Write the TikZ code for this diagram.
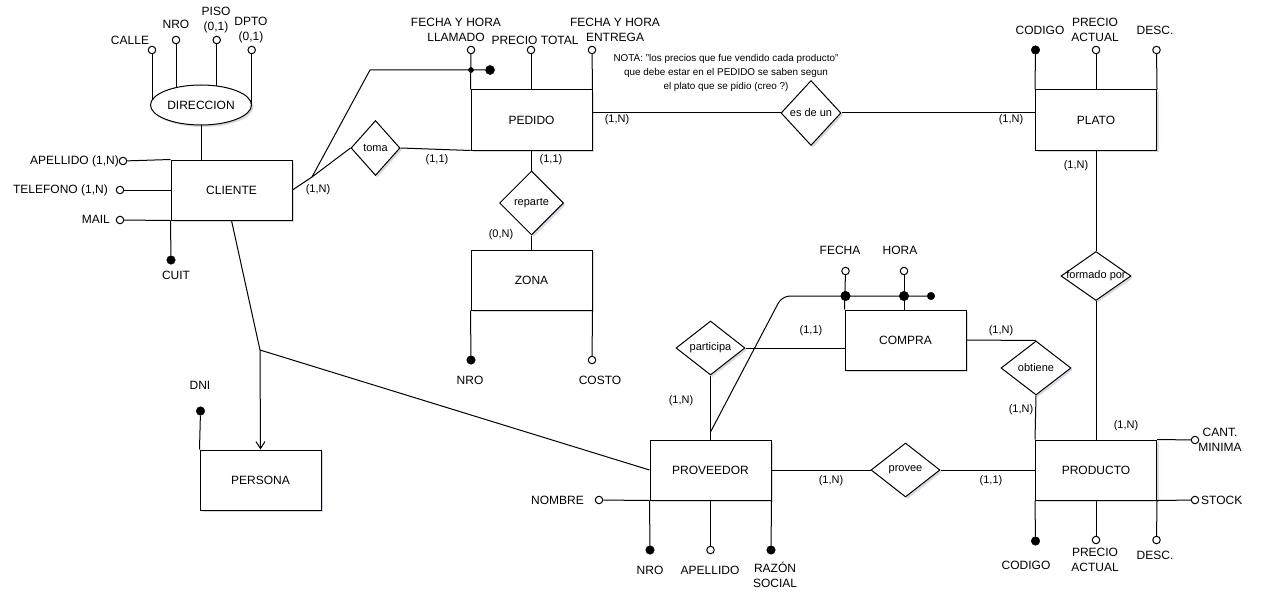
\documentclass[tikz,border=0pt]{standalone}
\usepackage{fontspec}
\setmainfont{Liberation Sans}
\usetikzlibrary{shapes.geometric,arrows.meta,shadows}
\pgfdeclarelayer{bg}
\pgfsetlayers{bg,main}

\newcommand\fA{\fontsize{12}{15}\selectfont}
\newcommand\fB{\fontsize{11}{13}\selectfont}
\newcommand\fN{\fontsize{9.9}{14.4}\selectfont}

\tikzset{
  shd/.style={drop shadow={shadow xshift=2pt,shadow yshift=-2pt,opacity=0.15,fill=black!70!blue}},
  ent/.style={draw,fill=white,rectangle,minimum width=121pt,minimum height=60pt,inner sep=0pt,font=\fA,line width=1pt,shd},
  rel/.style={draw,fill=white,diamond,inner sep=0pt,line width=1pt,shd},
  oatt/.style={circle,draw,fill=white,inner sep=0pt,minimum size=7.5pt,line width=1pt},
  katt/.style={circle,draw,fill=black,inner sep=0pt,minimum size=8.5pt,line width=0.5pt},
  lbl/.style={font=\fA,inner sep=0pt,align=center},
  card/.style={font=\fB,inner sep=0pt},
  conn/.style={line width=1pt,line join=round},
}

\begin{document}
\begin{tikzpicture}[x=1pt,y=-1pt]
\useasboundingbox (0,0) rectangle (1263,607);

% ---------- entities ----------
\node[ent] (cli)  at (231.5,190) {CLIENTE};
\node[ent] (ped)  at (531.5,120) {PEDIDO};
\node[ent] (zona) at (531.5,280) {ZONA};
\node[ent] (plato) at (1096,120) {PLATO};
\node[ent] (prod) at (1096,470) {PRODUCTO};
\node[ent] (prov) at (710.5,470) {PROVEEDOR};
\node[ent] (per)  at (260.5,480) {PERSONA};
\node[ent] (cmp)  at (905.5,340) {COMPRA};
\node[draw,fill=white,ellipse,minimum width=101pt,minimum height=40pt,inner sep=0pt,font=\fA,line width=1pt,shd] (dir) at (201,105) {DIRECCION};

% ---------- relationships ----------
\node[rel,minimum width=49pt,minimum height=55pt,label={[font=\fB]center:toma}] (toma) at (375.5,148) {};
\node[rel,minimum width=64pt,minimum height=64pt,label={[font=\fB]center:reparte}] (rep) at (531.5,203) {};
\node[rel,minimum width=60pt,minimum height=65pt,label={[font=\fB]center:es de un}] (esde) at (811,113) {};
\node[rel,minimum width=70pt,minimum height=49pt,label={[font=\fB]center:formado por}] (form) at (1096,276) {};
\node[rel,minimum width=70pt,minimum height=54pt,label={[font=\fB]center:obtiene}] (obt) at (1036,368) {};
\node[rel,minimum width=69pt,minimum height=54pt,label={[font=\fB]center:provee}] (provee) at (905.5,470) {};
\node[rel,minimum width=69pt,minimum height=54pt,label={[font=\fB]center:participa}] (part) at (710.5,348) {};

% ---------- attribute markers ----------
% DIRECCION
\node[oatt] (acalle) at (152,50) {};
\node[oatt] (anro)   at (176,40) {};
\node[oatt] (apiso)  at (216.7,40) {};
\node[oatt] (adpto)  at (251.7,50) {};
% CLIENTE
\node[oatt] (aape)  at (123,161) {};
\node[oatt] (atel)  at (120,190) {};
\node[oatt] (amail) at (120,220) {};
\node[katt] (acuit) at (171,260) {};
% PEDIDO
\node[oatt] (afhl) at (471,50) {};
\node[oatt] (apt)  at (531,50) {};
\node[oatt] (afhe) at (592,50) {};
\node[katt,minimum size=5pt] (pdot) at (471,70) {};
\node[katt,minimum size=9pt] (pkey) at (490,70) {};
% ZONA
\node[katt] (znro)   at (471,360) {};
\node[oatt] (zcosto) at (592,360) {};
% PLATO
\node[katt] (plcod) at (1035.5,50) {};
\node[oatt] (plpre) at (1096,50) {};
\node[oatt] (pldes) at (1156.5,50) {};
% PRODUCTO
\node[oatt] (prcant)  at (1195,440) {};
\node[oatt] (prstock) at (1195,500) {};
\node[katt] (prcod)   at (1035.5,541) {};
\node[oatt] (prpre)   at (1096,540) {};
\node[oatt] (prdes)   at (1156.5,540) {};
% PROVEEDOR
\node[oatt] (pvnom) at (599,500) {};
\node[katt] (pvnro) at (650,550) {};
\node[oatt] (pvape) at (710.5,550) {};
\node[katt] (pvraz) at (771,550) {};
% COMPRA
\node[oatt] (cfecha) at (845.5,271) {};
\node[oatt] (chora)  at (904,271) {};
\node[katt,minimum size=9.5pt] (fdot) at (845.5,296) {};
\node[katt,minimum size=9.5pt] (hdot) at (904,296) {};
\node[katt,minimum size=7.5pt] (ckey) at (931,296) {};
% PERSONA
\node[katt] (pdni) at (200.5,411) {};

% ---------- junction points ----------
\coordinate (jc) at (312,177);
\coordinate (jp) at (370,70);
\coordinate (jq) at (710.5,432);
\coordinate (jr) at (782,296);
\coordinate (jx) at (260,350);

% ---------- connectors ----------
\begin{pgfonlayer}{bg}
\draw[conn] (acalle) -- (acalle |- dir.center);
\draw[conn] (anro) -- (anro |- dir.center);
\draw[conn] (apiso) -- (apiso |- dir.center);
\draw[conn] (adpto) -- (adpto |- dir.center);
\draw[conn] (dir) -- (dir |- cli.north);
\draw[conn] (aape) -- (cli.north west);
\draw[conn] (atel) -- (cli.west);
\draw[conn] (amail) -- (cli.south west);
\draw[conn] (acuit) -- (cli.south west);

\draw[conn] (afhl) -- (ped.north west);
\draw[conn] (apt) -- (apt |- ped.north);
\draw[conn] (afhe) -- (ped.north east);
\draw[conn] (cli.east) -- (jc) -- (toma.west);
\draw[conn] (jc) -- (jp) -- (pkey);
\draw[conn] (toma.east) -- (ped.south west);
\draw[conn] (ped.south) -- (rep.north);
\draw[conn] (rep.south) -- (zona.north);
\draw[conn] (znro) -- (zona.south west);
\draw[conn] (zcosto) -- (zona.south east);

\draw[conn] (esde -| ped.east) -- (esde.west);
\draw[conn] (esde.east) -- (esde -| plato.west);
\draw[conn] (plcod) -- (plato.north west);
\draw[conn] (plpre) -- (plato.north);
\draw[conn] (pldes) -- (plato.north east);
\draw[conn] (plato.south) -- (form.north);
\draw[conn] (form.south) -- (prod.north);

\draw[conn] (prcant) -- (prod.north east);
\draw[conn] (prstock) -- (prod.south east);
\draw[conn] (prcod) -- (prod.south west);
\draw[conn] (prpre) -- (prod.south);
\draw[conn] (prdes) -- (prod.south east);

\draw[conn] (cmp.east) -- (obt.north);
\draw[conn] (obt.south) -- (prod.north west);
\draw[conn] (prov.east) -- (provee.west);
\draw[conn] (provee.east) -- (prod.west);
\draw[conn] (part.south) -- (prov.north);
\draw[conn] (part.east) -- (part -| cmp.west);
\draw[conn,rounded corners=8pt] (jq) -- (jr) -- (ckey);
\draw[conn] (cfecha) -- (cmp.north west);
\draw[conn] (chora) -- (chora |- cmp.north);

\draw[conn] (pvnom) -- (prov.south west);
\draw[conn] (pvnro) -- (prov.south west);
\draw[conn] (pvape) -- (prov.south);
\draw[conn] (pvraz) -- (prov.south east);

\draw[conn,-{Straight Barb[length=7pt,width=9pt]}] (cli.south) -- (jx) -- (per.north);
\draw[conn] (prov.west) -- (jx);
\draw[conn] (pdni) -- (per.north west);
\end{pgfonlayer}

% ---------- attribute names ----------
\node[lbl] (lcalle) at (130,40) {CALLE};
\node[lbl] (lnro)   at (176,24) {NRO};
\node[lbl] (lpiso)  at (216,20.5) {PISO\\(0,1)};
\node[lbl] (ldpto)  at (251,30) {DPTO\\(0,1)};
\node[lbl,anchor=east] (lape)  at (119,161) {APELLIDO (1,N)};
\node[lbl,anchor=east] (ltel)  at (108,190) {TELEFONO (1,N)};
\node[lbl,anchor=east] (lmail) at (110,219) {MAIL};
\node[lbl] (lcuit) at (176,275) {CUIT};

\node[lbl] (lfhl) at (456,30) {FECHA Y HORA\\LLAMADO};
\node[lbl] (lpt)  at (535,40) {PRECIO TOTAL};
\node[lbl] (lfhe) at (615,30) {FECHA Y HORA\\ENTREGA};
\node[font=\fN,align=center,inner sep=0pt] (nota) at (726,73)
  {NOTA: "los precios que fue vendido cada producto"\\que debe estar en el PEDIDO se saben segun\\el plato que se pidio (creo ?)};

\node[lbl] (lznro)   at (470,380) {NRO};
\node[lbl] (lzcosto) at (600,380) {COSTO};

\node[lbl] (lplcod) at (1040,30) {CODIGO};
\node[lbl] (lplpre) at (1095,30) {PRECIO\\ACTUAL};
\node[lbl] (lpldes) at (1155,30) {DESC.};

\node[lbl] (lcant)  at (1220,440) {CANT.\\MINIMA};
\node[lbl,anchor=west] (lstock) at (1201,500) {STOCK};
\node[lbl] (lprcod) at (1026,565) {CODIGO};
\node[lbl] (lprpre) at (1095,560) {PRECIO\\ACTUAL};
\node[lbl] (lprdes) at (1155,555) {DESC.};

\node[lbl] (lfecha) at (840,250) {FECHA};
\node[lbl] (lhora)  at (900,250) {HORA};

\node[lbl,anchor=east] (lpvnom) at (584,500) {NOMBRE};
\node[lbl] (lpvnro) at (650,570) {NRO};
\node[lbl] (lpvape) at (710,570) {APELLIDO};
\node[lbl] (lpvraz) at (775,575) {RAZÓN\\SOCIAL};

\node[lbl] (ldni) at (200,385) {DNI};

% ---------- cardinalities ----------
\node[card] (k1)  at (318,190) {(1,N)};
\node[card] (k2)  at (437,160) {(1,1)};
\node[card] (k3)  at (551,160) {(1,1)};
\node[card] (k4)  at (501,235) {(0,N)};
\node[card] (k5)  at (617,120) {(1,N)};
\node[card] (k6)  at (1011,120) {(1,N)};
\node[card] (k7)  at (1076,166) {(1,N)};
\node[card] (k8)  at (1001,331) {(1,N)};
\node[card] (k9)  at (1021,410) {(1,N)};
\node[card] (k10) at (1126,426) {(1,N)};
\node[card] (k11) at (991,481) {(1,1)};
\node[card] (k12) at (831,481) {(1,N)};
\node[card] (k13) at (681,401) {(1,N)};
\node[card] (k14) at (811,331) {(1,1)};
\end{tikzpicture}
\end{document}
